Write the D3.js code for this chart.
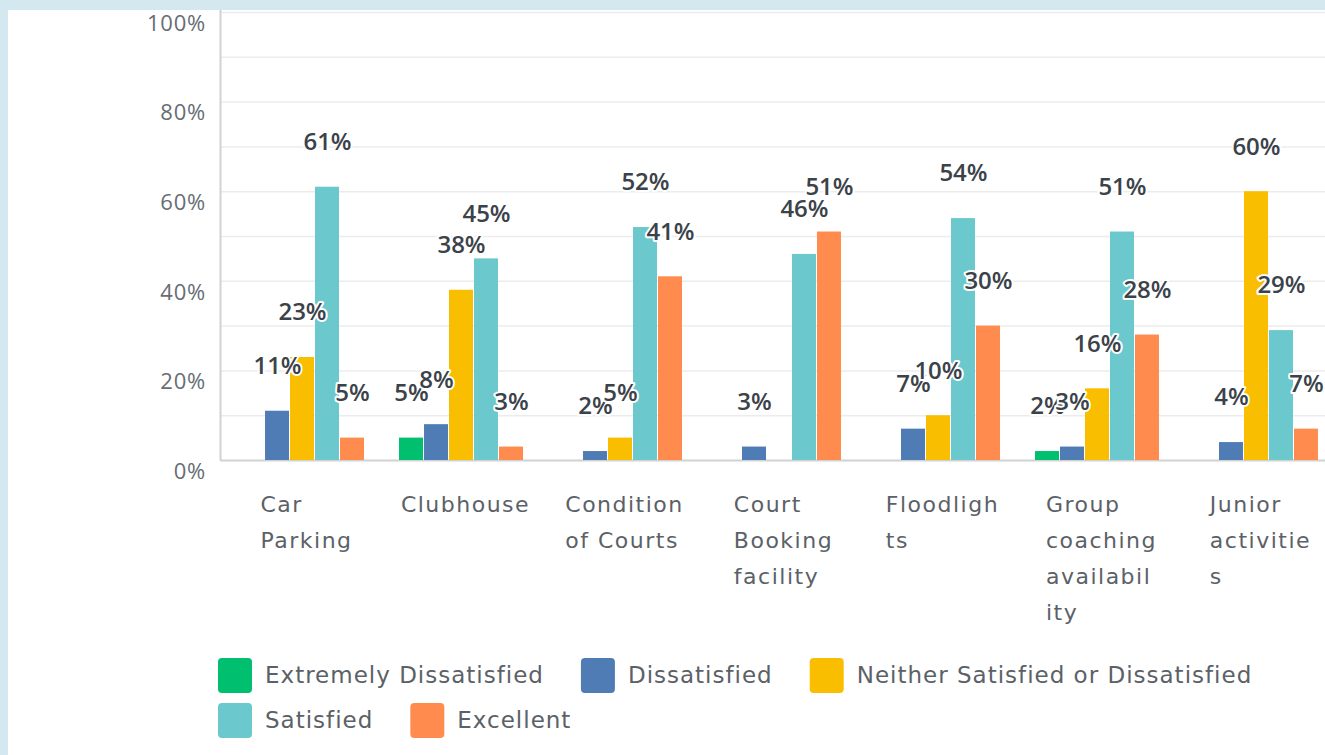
<!DOCTYPE html>
<html>
<head>
<meta charset="utf-8">
<script src="https://cdn.jsdelivr.net/npm/d3@7"></script>
<style>
  html, body { margin: 0; padding: 0; background: #d3e9ef; overflow: hidden; }
  svg { display: block; }
  .tick-label { font-family: "Open Sans", sans-serif; font-size: 22px; fill: #676d73; letter-spacing: 0.8px; }
  .cat-label { font-family: "DejaVu Sans", sans-serif; font-size: 22px; fill: #5b6167; letter-spacing: 1.5px; }
  .val { font-family: "Open Sans", sans-serif; font-size: 24px; font-weight: 600; fill: #3b4249;
         stroke: #fff; stroke-width: 4px; paint-order: stroke; stroke-linejoin: round; }
  .legend-label { font-family: "DejaVu Sans", sans-serif; font-size: 23px; fill: #5b6167; letter-spacing: 1px; }
</style>
</head>
<body>
<svg id="chart" width="1325" height="755"></svg>
<script>
const categories = ["Car Parking", "Clubhouse", "Condition of Courts", "Court Booking facility",
    "Floodlights", "Group coaching availability", "Junior activities"];
// wrapped tick labels as they appear
const categoryLines = [
    ["Car", "Parking"],
    ["Clubhouse"],
    ["Condition", "of Courts"],
    ["Court", "Booking", "facility"],
    ["Floodligh", "ts"],
    ["Group", "coaching", "availabil", "ity"],
    ["Junior", "activitie", "s"]
];
const seriesNames = ["Extremely Dissatisfied", "Dissatisfied", "Neither Satisfied or Dissatisfied", "Satisfied", "Excellent"];
const seriesColors = ["#00bf6f", "#507cb6", "#f9be00", "#6bc8cd", "#ff8b4f"];

const extremelyDissatisfied = [0, 5, 0, 0, 0, 2, 0];
const dissatisfied = [11, 8, 2, 3, 7, 3, 4];
const neither = [23, 38, 5, 0, 10, 16, 60];
const satisfied = [61, 45, 52, 46, 54, 51, 29];
const excellent = [5, 3, 41, 51, 30, 28, 7];

const yTicks = [0, 20, 40, 60, 80, 100];
const gridTicks = [10, 20, 30, 40, 50, 60, 70, 80, 90, 100];

const allSeries = [extremelyDissatisfied, dissatisfied, neither, satisfied, excellent];

const svg = d3.select('#chart');
const W = 1325, H = 755;

svg.append('rect').attr('x', 0).attr('y', 0).attr('width', W).attr('height', H).attr('fill', '#d3e9ef');
svg.append('rect').attr('x', 8).attr('y', 10).attr('width', W).attr('height', H).attr('fill', '#ffffff');

const left = 220, baseY = 460, topY = 12;

const yScale = d3.scaleLinear().domain([0, 100]).range([baseY, topY]);

// band scale runs past the right edge (chart is cropped)
const xScale = d3.scaleBand()
    .domain(categories)
    .range([left, 1339])
    .paddingInner(0.214)
    .paddingOuter(0.126);

const xSub = d3.scaleBand()
    .domain(seriesNames)
    .range([0, xScale.bandwidth()]);

// gridlines
svg.append('g')
    .selectAll('line')
    .data(gridTicks)
    .enter()
    .append('line')
    .attr('x1', left)
    .attr('x2', W)
    .attr('y1', d => yScale(d) + 0.5)
    .attr('y2', d => yScale(d) + 0.5)
    .attr('stroke', '#ececec')
    .attr('stroke-width', 1.5);

// axis lines
svg.append('line').attr('x1', left + 0.5).attr('x2', left + 0.5).attr('y1', 10).attr('y2', baseY)
    .attr('stroke', '#d2d2d2').attr('stroke-width', 2);
svg.append('line').attr('x1', left).attr('x2', W).attr('y1', baseY + 0.5).attr('y2', baseY + 0.5)
    .attr('stroke', '#d2d2d2').attr('stroke-width', 2);

// y tick labels (sit a little below their gridline)
svg.append('g')
    .selectAll('text')
    .data(yTicks)
    .enter()
    .append('text')
    .attr('class', 'tick-label')
    .attr('x', 206)
    .attr('y', d => yScale(d) + 11)
    .attr('dy', '0.35em')
    .attr('text-anchor', 'end')
    .text(d => d + '%');

// bars
const rows = [];
categories.forEach(function (c, i) {
    seriesNames.forEach(function (s, j) {
        rows.push({cat: c, series: s, idx: j, value: allSeries[j][i]});
    });
});
const shown = rows.filter(d => d.value > 0);

svg.append('g')
    .selectAll('rect')
    .data(shown)
    .enter()
    .append('rect')
    .attr('x', d => xScale(d.cat) + xSub(d.series))
    .attr('y', d => yScale(d.value))
    .attr('width', xSub.bandwidth() - 1)
    .attr('height', d => baseY - yScale(d.value))
    .attr('fill', d => seriesColors[d.idx]);

// value labels
svg.append('g')
    .selectAll('text')
    .data(shown)
    .enter()
    .append('text')
    .attr('class', 'val')
    .attr('x', d => xScale(d.cat) + xSub(d.series) + xSub.bandwidth() / 2)
    .attr('y', d => yScale(d.value) - 45)
    .attr('dy', '0.35em')
    .attr('text-anchor', 'middle')
    .text(d => d.value + '%');

// category labels: left aligned block, centred under the group
categories.forEach(function (c, i) {
    const g = svg.append('g');
    const lines = categoryLines[i];
    const texts = g.selectAll('text')
        .data(lines)
        .enter()
        .append('text')
        .attr('class', 'cat-label')
        .attr('x', 0)
        .attr('y', (d, k) => 504 + k * 36)
        .attr('dy', '0.35em')
        .text(d => d);
    let maxW = 0;
    texts.each(function () { maxW = Math.max(maxW, this.getComputedTextLength()); });
    const cx = xScale(c) + xScale.bandwidth() / 2 + 4;
    g.attr('transform', 'translate(' + (cx - maxW / 2) + ',0)');
});

// legend
const legend = svg.append('g');
let lx = 218, ly = 675;
seriesNames.forEach(function (s, j) {
    const item = legend.append('g');
    item.append('rect')
        .attr('x', 0).attr('y', -17)
        .attr('width', 34).attr('height', 35)
        .attr('rx', 4)
        .attr('fill', seriesColors[j]);
    const t = item.append('text')
        .attr('class', 'legend-label')
        .attr('x', 47).attr('y', 0)
        .attr('dy', '0.35em')
        .text(s);
    const w = 47 + t.node().getComputedTextLength();
    if (lx + w > 1300) {
        lx = 218;
        ly += 45;
    }
    item.attr('transform', 'translate(' + lx + ',' + ly + ')');
    lx += w + 37;
});
</script>
</body>
</html>
